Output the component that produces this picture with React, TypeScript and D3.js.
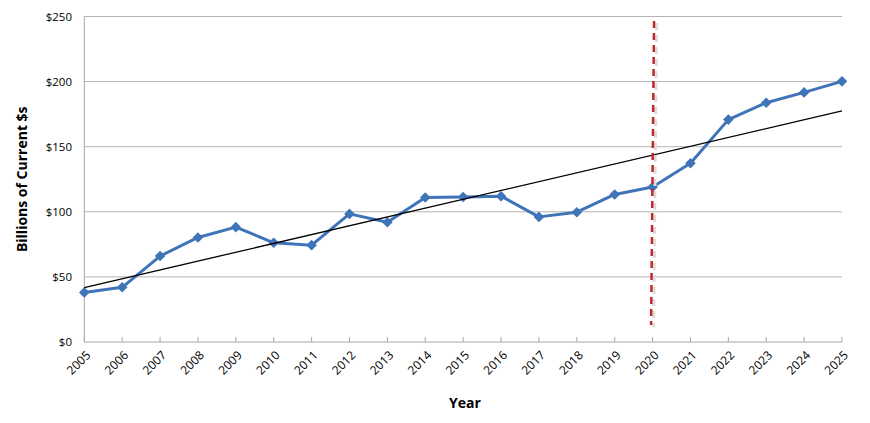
import * as d3 from "d3";

const years = [
  "2005", "2006", "2007", "2008", "2009", "2010", "2011", "2012", "2013", "2014",
  "2015", "2016", "2017", "2018", "2019", "2020", "2021", "2022", "2023", "2024", "2025",
];
const values = [
  38.1, 42, 66, 80.3, 88.2, 76.2, 74.4, 98.4, 92, 111,
  111.4, 112, 96.1, 99.7, 113.3, 119.1, 137.3, 170.8, 183.8, 191.7, 200.2,
];
const yTicks = [0, 50, 100, 150, 200, 250];
const markerYear = "2020";

const width = 870;
const height = 423;
const margin = { top: 16.5, right: 28, bottom: 81, left: 84.3 };
const font = "'Open Sans', 'Noto Sans', sans-serif";

export default function App() {
  const x = d3
    .scalePoint<string>()
    .domain(years)
    .range([margin.left, width - margin.right]);
  const y = d3
    .scaleLinear()
    .domain([0, 250])
    .range([height - margin.bottom, margin.top]);

  // least-squares trend line over the series
  const idx = values.map((_, i) => i);
  const mx = d3.mean(idx) ?? 0;
  const my = d3.mean(values) ?? 0;
  const slope =
    d3.sum(idx, (i) => (i - mx) * (values[i] - my)) /
    d3.sum(idx, (i) => (i - mx) * (i - mx));
  const icpt = my - slope * mx;
  const trend = (i: number) => icpt + slope * i;

  const line = d3
    .line<number>()
    .x((_, i) => x(years[i]) ?? 0)
    .y((d) => y(d));

  // square turned 45deg, like Excel's diamond marker
  const diamond = d3.symbol(d3.symbolSquare, 56)();
  const x0 = x(years[0]) ?? 0;
  const x1 = x(years[years.length - 1]) ?? 0;
  const xm = x(markerYear) ?? 0;
  const base = y(0);

  return (
    <svg width={width} height={height} style={{ position: "absolute", left: 0, top: 0, fontFamily: font }}>
      <rect width={width} height={height} fill="#fff" />
      {yTicks.map((t) => (
        <g key={t}>
          {t > 0 && (
            <line x1={x0} x2={x1} y1={y(t)} y2={y(t)} stroke="#b3b3b3" strokeWidth={1} />
          )}
          <text x={72} y={y(t)} dy="0.35em" textAnchor="end" fontSize={11.5} fill="#000">
            {d3.format("$")(t).replace(".00", "")}
          </text>
        </g>
      ))}
      {/* axes */}
      <line x1={x0} x2={x0} y1={margin.top} y2={base} stroke="#a6a6a6" strokeWidth={1} />
      <line x1={x0} x2={x1} y1={base} y2={base} stroke="#a6a6a6" strokeWidth={1} />
      {years.map((yr) => (
        <g key={yr}>
          <line x1={x(yr)} x2={x(yr)} y1={base - 5} y2={base} stroke="#a6a6a6" />
          <text
            transform={`translate(${(x(yr) ?? 0) + 4},${base + 11}) rotate(-45)`}
            textAnchor="end"
            dy="0.35em"
            fontSize={12}
            fill="#000"
          >
            {yr}
          </text>
        </g>
      ))}

      {/* series */}
      <path d={line(values) ?? ""} fill="none" stroke="#3f74b9" strokeWidth={3} strokeLinejoin="round" />
      {values.map((v, i) => (
        <path
          key={i}
          d={diamond ?? ""}
          transform={`translate(${x(years[i])},${y(v)}) rotate(45)`}
          fill="#3f74b9"
        />
      ))}

      {/* trend line */}
      <line x1={x0} y1={y(trend(0))} x2={x1} y2={y(trend(values.length - 1))} stroke="#000" strokeWidth={1.3} />

      {/* 2020 marker */}
      <line x1={xm + 4} y1={23} x2={xm + 1} y2={327} stroke="#dcdcdc" strokeWidth={3} strokeDasharray="7 5" />
      <line x1={xm + 1.5} y1={21} x2={xm - 1.5} y2={325} stroke="#c0282d" strokeWidth={2.5} strokeDasharray="7 5" />

      <text x={465} y={408} textAnchor="middle" fontSize={14} fontWeight="bold">
        Year
      </text>
      <text
        transform={`translate(27,${(margin.top + base) / 2}) rotate(-90)`}
        textAnchor="middle"
        fontSize={14}
        fontWeight="bold"
      >
        Billions of Current $s
      </text>
    </svg>
  );
}
